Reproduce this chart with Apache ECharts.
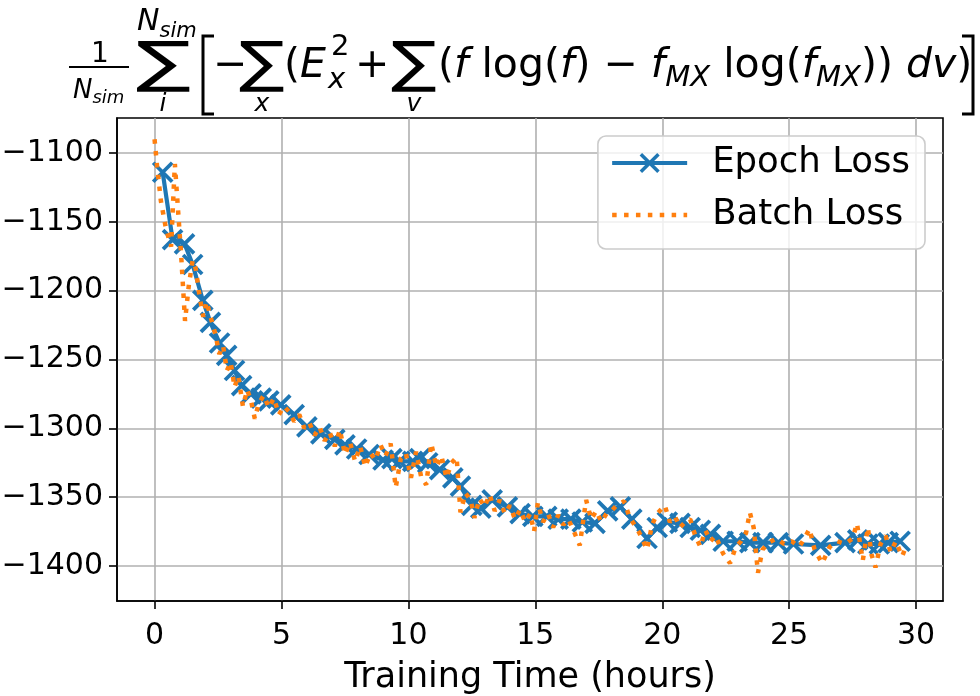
<!DOCTYPE html>
<html><head><meta charset="utf-8">
<script src="https://cdn.jsdelivr.net/npm/echarts@6/dist/echarts.min.js"></script>
<style>html,body{margin:0;padding:0;background:#fff}#c{width:980px;height:696px}</style>
</head><body><div id="c"></div>
<script>
// ---------- data ----------
const epochX = [0.32,0.71,1.18,1.50,1.90,2.20,2.56,2.84,3.15,3.43,3.80,4.20,4.50,4.97,5.50,6.00,6.55,7.10,7.50,7.96,8.45,9.00,9.35,9.66,10.17,10.45,10.76,11.23,11.75,12.05,12.50,12.85,13.30,13.90,14.40,14.90,15.45,15.90,16.40,16.85,17.35,17.85,18.35,18.80,19.40,19.80,20.20,20.70,21.10,21.50,21.90,22.40,22.95,23.45,23.97,24.57,25.17,26.24,27.20,27.70,28.10,28.55,28.90,29.37];
const epochY = [-1114,-1163,-1166,-1181,-1207,-1223,-1238,-1247,-1258,-1269,-1275,-1278,-1280,-1283,-1290,-1299,-1304,-1308,-1312,-1315,-1319,-1323,-1322,-1324,-1324,-1322,-1325,-1330,-1336,-1342,-1356,-1358,-1352,-1357,-1362,-1364,-1364,-1366,-1366,-1368,-1369,-1360,-1357,-1366,-1380,-1372,-1368,-1369,-1372,-1374,-1377,-1382,-1382,-1383,-1383,-1383,-1384,-1385,-1383,-1381,-1384,-1384,-1383,-1382];
const batchX = [0.00,0.10,0.25,0.45,0.65,0.80,0.92,1.05,1.20,1.35,1.50,1.62,1.78,1.92,2.05,2.25,2.40,2.55,2.70,2.85,3.00,3.15,3.30,3.48,3.65,3.80,3.95,4.10,4.30,4.50,4.70,4.90,5.10,5.30,5.50,5.70,5.90,6.10,6.30,6.50,6.70,6.90,7.10,7.30,7.50,7.70,7.90,8.10,8.30,8.50,8.70,8.90,9.10,9.30,9.50,9.70,9.90,10.10,10.30,10.50,10.70,10.90,11.10,11.30,11.50,11.70,11.90,12.05,12.25,12.45,12.60,12.80,13.00,13.20,13.40,13.60,13.80,14.00,14.20,14.40,14.60,14.80,14.95,15.10,15.30,15.50,15.70,15.90,16.10,16.30,16.50,16.75,17.00,17.20,17.40,17.60,17.80,18.00,18.20,18.50,18.70,18.90,19.10,19.40,19.60,19.80,20.10,20.30,20.50,20.70,20.90,21.10,21.30,21.50,21.70,21.90,22.10,22.40,22.67,22.90,23.10,23.30,23.45,23.60,23.77,23.95,24.20,24.50,24.80,25.10,25.40,25.60,25.80,26.00,26.30,26.60,26.90,27.20,27.50,27.67,27.90,28.10,28.25,28.40,28.60,28.80,29.00,29.20,29.45,29.60];
const batchY = [-1090,-1110,-1135,-1155,-1168,-1108,-1140,-1175,-1222,-1196,-1178,-1184,-1205,-1219,-1208,-1222,-1232,-1246,-1240,-1258,-1252,-1270,-1262,-1284,-1272,-1280,-1293,-1282,-1276,-1285,-1278,-1290,-1284,-1288,-1295,-1290,-1300,-1296,-1305,-1299,-1309,-1303,-1313,-1301,-1319,-1310,-1324,-1313,-1328,-1318,-1323,-1312,-1320,-1311,-1343,-1322,-1318,-1336,-1317,-1335,-1341,-1311,-1328,-1320,-1336,-1325,-1321,-1361,-1347,-1352,-1365,-1351,-1357,-1348,-1360,-1352,-1362,-1356,-1366,-1359,-1368,-1362,-1375,-1354,-1368,-1362,-1372,-1363,-1370,-1366,-1374,-1385,-1352,-1366,-1360,-1368,-1362,-1360,-1356,-1353,-1364,-1370,-1376,-1388,-1370,-1362,-1356,-1368,-1364,-1372,-1368,-1366,-1378,-1386,-1374,-1382,-1378,-1391,-1398,-1386,-1382,-1376,-1361,-1372,-1405,-1388,-1383,-1380,-1384,-1382,-1386,-1380,-1373,-1388,-1398,-1386,-1382,-1384,-1380,-1369,-1396,-1372,-1392,-1401,-1384,-1378,-1390,-1382,-1393,-1386];
const xTicks = [0,5,10,15,20,25,30];
const yTicks = [-1400,-1350,-1300,-1250,-1200,-1150,-1100];
const xLabel = 'Training Time (hours)';
const seriesNames = ['Epoch Loss','Batch Loss'];

// ---------- title (math formula) layout ----------
const FF = "'DejaVu Sans'";
const ctx = document.createElement('canvas').getContext('2d');
function fontStr(size, it){ return (it ? 'italic ' : '') + size + 'px ' + FF; }
function midOff(size, it){ ctx.font = fontStr(size, it); ctx.textBaseline = 'middle'; return ctx.measureText('H').actualBoundingBoxDescent; }
function W(t, size, it){ ctx.font = fontStr(size, it); return ctx.measureText(t).width; }
const G = [];
function T(t, x, base, size, it, align){
  G.push({type:'text', x:x, y: base - midOff(size, it), z:100,
    style:{text:t, font:fontStr(size, it), fill:'#000', align:align || 'left', verticalAlign:'middle'}});
  return W(t, size, it);
}
// fit a glyph's ink box into [x0,x1]x[y0,y1]
function fit(ch, x0, x1, y0, y1){
  const s0 = 100;
  ctx.font = fontStr(s0, false); ctx.textBaseline = 'alphabetic';
  const m = ctx.measureText(ch);
  const hh = (m.actualBoundingBoxAscent + m.actualBoundingBoxDescent) / s0;
  const ww = (m.actualBoundingBoxLeft + m.actualBoundingBoxRight) / s0;
  const size = (y1 - y0) / hh;
  const sx = ((x1 - x0) / size) / ww;
  const base = y0 + m.actualBoundingBoxAscent / s0 * size;
  const ox = x0 + m.actualBoundingBoxLeft / s0 * size * sx;
  G.push({type:'text', x:ox, y: base - midOff(size, false), scaleX:sx, z:100,
    style:{text:ch, font:fontStr(size, false), fill:'#000', align:'left', verticalAlign:'middle'}});
}
const B = 77, F = 41, S = 29, SD = 9, LB = 111, LS = 25;
// fraction 1/N_sim
T('1', 100, 62, 28, false, 'center');
G.push({type:'line', z:100, shape:{x1:69, y1:67, x2:129, y2:67}, style:{stroke:'#000', lineWidth:2}});
let nx = 73 + T('N', 73, 98, 26, true);
T('sim', nx, 103, 18, true);
// big sum with limits
fit('\u2211', 137, 190, 42, 93);
nx = 137 + T('N', 137, 30, 30, true);
T('sim', nx, 37, 21, true);
T('i', 163, LB, LS, true, 'center');
// left bracket
G.push({type:'polyline', z:100, shape:{points:[[214,36],[203,36],[203,114],[214,114]]}, style:{stroke:'#000', lineWidth:3, fill:null}});
T('\u2212', 213, B, F, false);
fit('\u2211', 240, 284, 42, 93);
T('x', 262, LB, LS, true, 'center');
T('(', 284, B, F, false);
T('E', 300, B, F, true);
T('2', 331, 55, S, false);
T('x', 328, B + SD + 2, S, true);
T('+', 355, B, F, false);
fit('\u2211', 392, 436, 42, 93);
T('v', 414, LB, LS, true, 'center');
const seq = [['(',F,0,0],['f',F,1,0],[' log(',F,0,0],['f',F,1,0],[') \u2212 ',F,0,0],['f',F,1,0],['MX',S,1,SD],[' log(',F,0,0],['f',F,1,0],['MX',S,1,SD],[')) ',F,0,0],['dv',F,1,0],[')',F,0,0]];
let cx = 438;
seq.forEach(s => { cx += T(s[0], cx, B + s[3], s[1], !!s[2]); });
G.push({type:'polyline', z:100, shape:{points:[[962,36],[973,36],[973,114],[962,114]]}, style:{stroke:'#000', lineWidth:3, fill:null}});

// ---------- chart ----------
const chart = echarts.init(document.getElementById('c'), null, {renderer:'canvas'});
const minus = v => String(v).replace('-', '\u2212');
const axisCommon = {
  type:'value',
  axisLine:{show:true, onZero:false, lineStyle:{color:'#000', width:1.6}},
  splitLine:{show:true, lineStyle:{color:'#b0b0b0', width:1.6}},
};
chart.setOption({
  animation:false,
  backgroundColor:'#fff',
  textStyle:{fontFamily:FF},
  grid:{left:117, right:37, top:118, bottom:95, show:true, borderColor:'#000', borderWidth:1.6,
        backgroundColor:'transparent', containLabel:false, outerBoundsMode:'none'},
  graphic:G,
  legend:{
    right:55, top:136, orient:'vertical', itemWidth:75, itemHeight:22, itemGap:16,
    padding:[9,15,16,12], borderColor:'#cccccc', borderWidth:1.6, borderRadius:8,
    backgroundColor:'rgba(255,255,255,0.8)',
    textStyle:{fontSize:35.5, color:'#000', fontFamily:FF, padding:[0,0,0,20], lineHeight:36},
    data:[
      {name:seriesNames[0], itemStyle:{color:'#1f77b4', borderColor:'#1f77b4', borderWidth:3.5}, lineStyle:{color:'#1f77b4', width:4}},
      {name:seriesNames[1], itemStyle:{opacity:0}, lineStyle:{color:'#ff7f0e', width:4.5, type:[4.5,7.4]}}
    ]
  },
  xAxis:Object.assign({}, axisCommon, {
    min:-1.48, max:31.06,
    axisTick:{show:true, length:8, lineStyle:{color:'#000', width:1.6}, customValues:xTicks},
    axisLabel:{customValues:xTicks, fontSize:30, color:'#000', margin:20, fontFamily:FF},
    name:xLabel, nameLocation:'middle', nameGap:59,
    nameTextStyle:{fontSize:35, color:'#000', fontFamily:FF}
  }),
  yAxis:Object.assign({}, axisCommon, {
    min:-1425.4, max:-1074.6,
    axisTick:{show:true, length:8, lineStyle:{color:'#000', width:1.6}, customValues:yTicks},
    axisLabel:{customValues:yTicks, fontSize:30, color:'#000', margin:14, fontFamily:FF, formatter:minus}
  }),
  series:[
    {type:'line', name:seriesNames[0], data:epochX.map((x,i)=>[x, epochY[i]]),
     symbol:'path://M0,0L10,10M10,0L0,10', symbolSize:19, showSymbol:true,
     lineStyle:{color:'#1f77b4', width:4.2},
     itemStyle:{color:'#1f77b4', borderColor:'#1f77b4', borderWidth:3.8},
     z:2},
    {type:'line', name:seriesNames[1], data:batchX.map((x,i)=>[x, batchY[i]]),
     symbol:'none', showSymbol:false,
     lineStyle:{color:'#ff7f0e', width:4.5, type:[4.5,7.4], cap:'butt'},
     itemStyle:{color:'#ff7f0e'},
     z:3}
  ]
});
</script></body></html>
